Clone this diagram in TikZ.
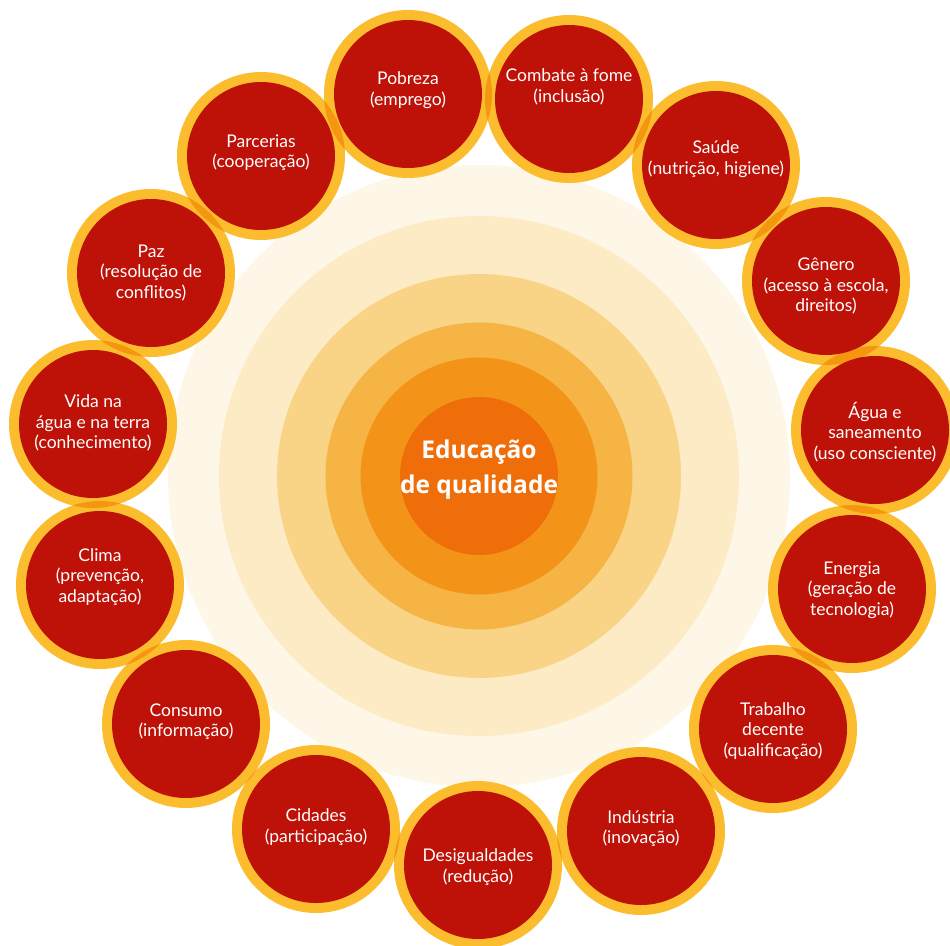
\documentclass[tikz,border=0pt]{standalone}
\usepackage{fontspec}
\setmainfont{Lato}
\newfontfamily\titlefont{Open Sans}
\definecolor{haloA}{HTML}{FEF6E6}
\definecolor{haloB}{HTML}{FCEBC5}
\definecolor{haloC}{HTML}{F9D487}
\definecolor{haloD}{HTML}{F6B444}
\definecolor{haloE}{HTML}{F39418}
\definecolor{coreC}{HTML}{F06E09}
\definecolor{ringY}{HTML}{FBBD2E}
\definecolor{lensO}{HTML}{F4960F}
\definecolor{goalR}{HTML}{BE1107}
\tikzset{
  goal/.style={circle, fill=goalR, minimum size=148pt, inner sep=0pt},
  goaltext/.style={text=white, align=center, inner sep=0pt,
    font=\fontsize{17.5}{20.5}\selectfont},
  core/.style={circle, fill=coreC, minimum size=158pt, inner sep=0pt},
  coretext/.style={text=white, align=center, inner sep=0pt,
    font=\titlefont\bfseries\fontsize{24.5}{35}\selectfont}
}
\begin{document}
\begin{tikzpicture}[x=1pt,y=-1pt]
\useasboundingbox (0,0) rectangle (950,945);
% concentric halo around the centre
\coordinate (o) at (479,476);
\fill[haloA] (o) circle (311pt);
\fill[haloB] (o) circle (260pt);
\fill[haloC] (o) circle (202pt);
\fill[haloD] (o) circle (153.5pt);
\fill[haloE] (o) circle (118.5pt);
\node[core] (edu) at (o) {};
\node[coretext, yshift=6pt] (edutext) at (o) {Educação\\de qualidade};
% centres of the fifteen goal circles
\foreach \n/\x/\y in {1/408/94, 2/569/99, 3/716/165, 4/826/281, 5/875/430,
  6/852/589, 7/773/729, 8/641/831, 9/478/865, 10/316/829, 11/186/724,
  12/100/585, 13/93/424, 14/151/273, 15/261/156}
  {\coordinate (c\n) at (\x,\y);}
% yellow rims
\foreach \n in {1,...,15}
  {\fill[ringY] (c\n) circle (84pt);}
% darker lens where neighbouring rims overlap
\foreach \a/\b in {1/2,2/3,3/4,4/5,5/6,6/7,7/8,8/9,9/10,10/11,11/12,12/13,13/14,14/15,15/1}
{
  \begin{scope}
    \clip (c\a) circle (84pt);
    \fill[lensO] (c\b) circle (84pt);
  \end{scope}
}
% red goal discs
\foreach \n in {1,...,15}
  {\node[goal] (g\n) at (c\n) {};}
% goal labels
\node[goaltext, yshift=4pt]   (t1)  at (c1)  {Pobreza\\(emprego)};
\node[goaltext, yshift=12pt]  (t2)  at (c2)  {Combate à fome\\(inclusão)};
\node[goaltext, yshift=6pt]   (t3)  at (c3)  {Saúde\\(nutrição, higiene)};
\node[goaltext, yshift=-5pt]  (t4)  at (c4)  {Gênero\\(acesso à escola,\\direitos)};
\node[goaltext, yshift=-2pt]  (t5)  at (c5)  {Água e\\saneamento\\(uso consciente)};
\node[goaltext, yshift=-1pt]  (t6)  at (c6)  {Energia\\(geração de\\tecnologia)};
\node[goaltext, yshift=-2pt]  (t7)  at (c7)  {Trabalho\\decente\\(qualificação)};
\node[goaltext, yshift=2.5pt] (t8)  at (c8)  {Indústria\\(inovação)};
\node[goaltext, yshift=-2pt]  (t9)  at (c9)  {Desigualdades\\(redução)};
\node[goaltext, yshift=2pt]   (t10) at (c10) {Cidades\\(participação)};
\node[goaltext, yshift=2.5pt] (t11) at (c11) {Consumo\\(informação)};
\node[goaltext, yshift=8pt]   (t12) at (c12) {Clima\\(prevenção,\\adaptação)};
\node[goaltext, yshift=1pt]   (t13) at (c13) {Vida na\\água e na terra\\(conhecimento)};
\node[goaltext]               (t14) at (c14) {Paz\\(resolução de\\conflitos)};
\node[goaltext, yshift=3.5pt] (t15) at (c15) {Parcerias\\(cooperação)};
\end{tikzpicture}
\end{document}
